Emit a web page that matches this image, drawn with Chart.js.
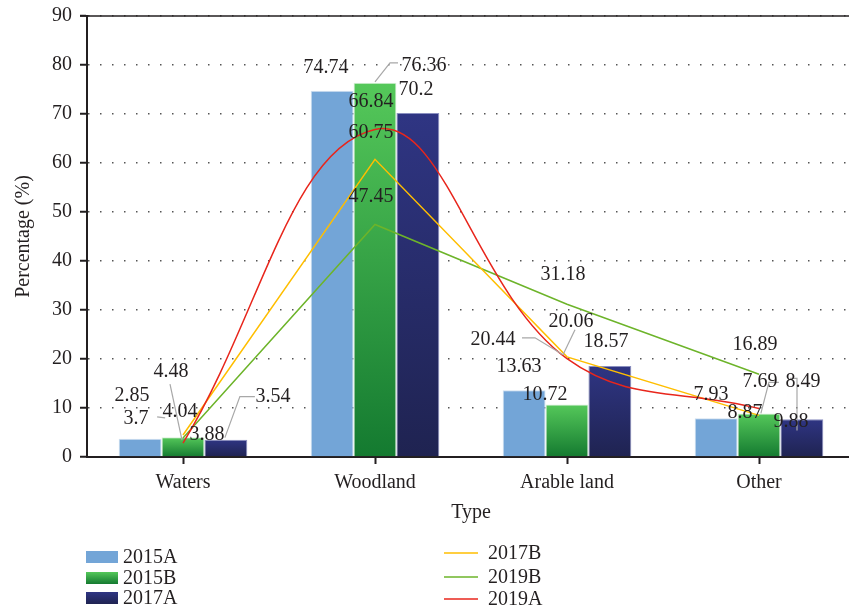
<!DOCTYPE html>
<html>
<head>
<meta charset="utf-8">
<script src="https://cdn.jsdelivr.net/npm/chart.js@4/dist/chart.umd.min.js"></script>
<style>
  html, body { margin: 0; padding: 0; background: #fff; overflow: hidden; }
</style>
</head>
<body>
<canvas id="chart" width="856" height="612"></canvas>
<script>
// Data
const categories = ['Waters', 'Woodland', 'Arable land', 'Other'];
const seriesNames = ['2015A', '2015B', '2017A', '2017B', '2019B', '2019A'];
const values2015A = [3.7, 74.74, 13.63, 7.93];
const values2015B = [4.04, 76.36, 10.72, 8.87];
const values2017A = [3.54, 70.2, 18.57, 7.69];
const values2017B = [4.48, 60.75, 20.44, 8.49];
const values2019B = [3.88, 47.45, 31.18, 16.89];
const values2019A = [2.85, 66.84, 20.06, 9.88];
const yTicks = [0, 10, 20, 30, 40, 50, 60, 70, 80, 90];

// where each value label sits relative to its bar top / point (px)
const labelOffsets = [
  [[-4, -20], [-6, -23], [-5, -23], [-5, -23]],
  [[-3, -25], [49, -17], [-22, -10], [-14, -1]],
  [[47, -43], [-2, -23], [-4, -24], [-42, -38]],
  [[-12, -63], [-4, -27], [-74, -17], [44, -34]],
  [[24, -3], [-4, -28], [-4, -29], [-4, -29]],
  [[-51, -47], [-4, -28], [4, -37], [32, 13]]
];
// grey leader lines, relative to the same anchor
const leaders = [
  [[[17, -22], [25, -21]], null, null, null],
  [null, [[0, -1], [15, -20], [23, -20]], null, null],
  [[[-1, -2], [14, -43], [29, -43]], null, null, [[-41, -6], [-33, -37], [-23, -37]]],
  [[[-13, -51], [-1, 5]], null, [[-4, -2], [-32, -19], [-45, -19]], [[38, 15], [38, -37], [31, -37]]],
  [null, null, null, null],
  [null, null, [[-4, -4], [8, -29]], null]
];

const FONT = '"Liberation Serif", "DejaVu Serif", serif';
const TEXT = '#231f20';

function barGradient(top, bottom) {
  return ctx => {
    const chart = ctx.chart;
    if (!chart.chartArea || ctx.type !== 'data') return bottom;
    const y = chart.scales.y;
    const g = chart.ctx.createLinearGradient(0, y.getPixelForValue(ctx.raw), 0, y.getPixelForValue(0));
    g.addColorStop(0, top);
    g.addColorStop(1, bottom);
    return g;
  };
}

const valueLabels = {
  id: 'valueLabels',
  afterDatasetsDraw(chart) {
    const ctx = chart.ctx;
    ctx.save();
    chart.data.datasets.forEach((ds, i) => {
      const meta = chart.getDatasetMeta(i);
      meta.data.forEach((el, j) => {
        const lead = leaders[i][j];
        if (lead) {
          ctx.strokeStyle = '#a8a8a8';
          ctx.lineWidth = 1.2;
          ctx.beginPath();
          lead.forEach((p, k) => {
            if (k === 0) ctx.moveTo(el.x + p[0], el.y + p[1]);
            else ctx.lineTo(el.x + p[0], el.y + p[1]);
          });
          ctx.stroke();
        }
      });
    });
    ctx.font = '20px ' + FONT;
    ctx.fillStyle = TEXT;
    ctx.textAlign = 'center';
    ctx.textBaseline = 'middle';
    chart.data.datasets.forEach((ds, i) => {
      const meta = chart.getDatasetMeta(i);
      meta.data.forEach((el, j) => {
        const off = labelOffsets[i][j];
        ctx.fillText(String(ds.data[j]), el.x + off[0], el.y + off[1]);
      });
    });
    ctx.restore();
  }
};

const frameAndLegend = {
  id: 'frameAndLegend',
  afterDraw(chart) {
    const ctx = chart.ctx;
    const area = chart.chartArea;
    ctx.save();
    // solid top line of the frame
    ctx.strokeStyle = '#231f20';
    ctx.lineWidth = 1.5;
    ctx.beginPath();
    ctx.moveTo(area.left - 7, area.top);
    ctx.lineTo(area.right, area.top);
    ctx.stroke();

    // legend: bars on the left, lines on the right
    ctx.font = '20px ' + FONT;
    ctx.fillStyle = TEXT;
    ctx.textBaseline = 'middle';
    ctx.textAlign = 'left';
    const barRows = [557, 578, 598];
    const lineRows = [553, 577, 599];
    const barFills = [['#73a5d7', '#73a5d7'], ['#55c85a', '#147a30'], ['#2f3583', '#1f2351']];
    chart.data.datasets.forEach((ds, i) => {
      if (ds.type === 'bar') {
        const y = barRows[i];
        const g = ctx.createLinearGradient(0, y - 6, 0, y + 6);
        g.addColorStop(0, barFills[i][0]);
        g.addColorStop(1, barFills[i][1]);
        ctx.fillStyle = g;
        ctx.fillRect(area.left - 1, y - 6, 32, 12);
        ctx.fillStyle = TEXT;
        ctx.fillText(ds.label, area.left + 36, y + 1);
      } else {
        const y = lineRows[i - 3];
        ctx.strokeStyle = ds.borderColor;
        ctx.lineWidth = 1.5;
        ctx.beginPath();
        ctx.moveTo(444, y);
        ctx.lineTo(478, y);
        ctx.stroke();
        ctx.fillText(ds.label, 488, y + 1);
      }
    });
    ctx.restore();
  }
};

new Chart(document.getElementById('chart'), {
  type: 'bar',
  data: {
    labels: categories,
    datasets: [
      { type: 'bar', label: seriesNames[0], data: values2015A, order: 3,
        backgroundColor: '#73a5d7', borderColor: '#cfe0f0', borderWidth: 1 },
      { type: 'bar', label: seriesNames[1], data: values2015B, order: 3,
        backgroundColor: barGradient('#55c85a', '#147a30'), borderColor: '#d8efd8', borderWidth: 1 },
      { type: 'bar', label: seriesNames[2], data: values2017A, order: 3,
        backgroundColor: barGradient('#2f3583', '#1f2351'), borderColor: '#8a8fc0', borderWidth: 1 },
      { type: 'line', label: seriesNames[3], data: values2017B, order: 1,
        borderColor: '#ffbe00', borderWidth: 1.5, pointRadius: 0, tension: 0, fill: false },
      { type: 'line', label: seriesNames[4], data: values2019B, order: 2,
        borderColor: '#6db42a', borderWidth: 1.5, pointRadius: 0, tension: 0, fill: false },
      { type: 'line', label: seriesNames[5], data: values2019A, order: 0,
        borderColor: '#e8261c', borderWidth: 1.5, pointRadius: 0, tension: 0.4, fill: false }
    ]
  },
  options: {
    responsive: false,
    animation: false,
    layout: { padding: { top: 16, right: 1, bottom: 85, left: 0 } },
    datasets: { bar: { categoryPercentage: 0.67, barPercentage: 1 } },
    plugins: { legend: { display: false }, tooltip: { enabled: false } },
    scales: {
      x: {
        afterFit: s => { s.height = 70; },
        grid: { offset: false, drawOnChartArea: false, drawTicks: true,
                tickLength: 7, tickColor: '#231f20', tickWidth: 2 },
        border: { color: '#231f20', width: 2 },
        ticks: { color: TEXT, font: { family: FONT, size: 20 }, padding: 7 },
        title: { display: true, text: 'Type', color: TEXT,
                 font: { family: FONT, size: 20 }, padding: { top: 0, bottom: 2 } }
      },
      y: {
        min: 0,
        max: 90,
        afterFit: s => { s.width = 87; s.paddingTop = 0; s.paddingBottom = 0; },
        afterBuildTicks: s => { s.ticks = yTicks.map(v => ({ value: v })); },
        grid: { color: '#555', lineWidth: 1.5, drawTicks: true,
                tickLength: 7, tickColor: '#231f20', tickWidth: 2 },
        border: { color: '#231f20', width: 2, dash: [1.5, 10.5] },
        ticks: { color: TEXT, font: { family: FONT, size: 20 }, padding: 8 },
        title: { display: true, text: 'Percentage (%)', color: TEXT,
                 font: { family: FONT, size: 20 }, padding: { top: 12, bottom: 0 } }
      }
    }
  },
  plugins: [valueLabels, frameAndLegend]
});
</script>
</body>
</html>
